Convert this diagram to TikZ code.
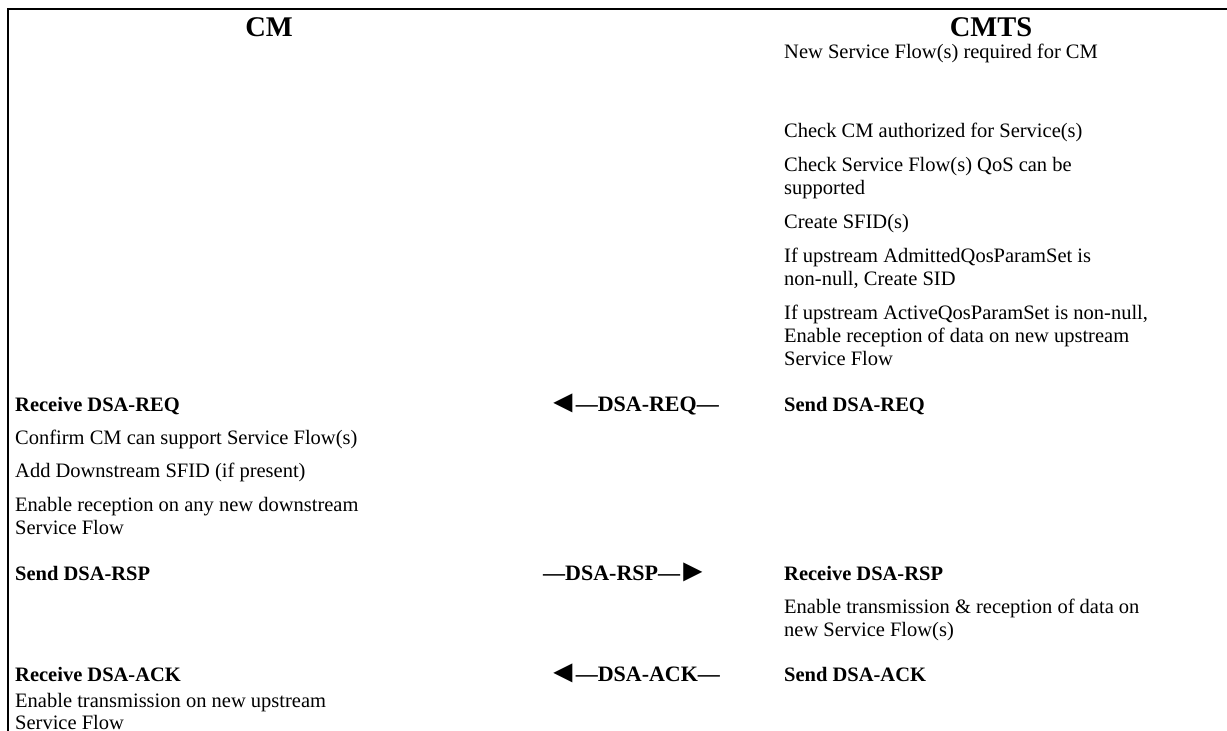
\documentclass[tikz,border=0pt]{standalone}
\usepackage{fontspec}
\usepackage{graphicx}
\setmainfont{Liberation Serif}
\newcommand{\tril}{\raisebox{-1pt}{\scalebox{1.45}{◄}}\kern-3pt}
\newcommand{\trir}{\kern-3pt\raisebox{-1pt}{\scalebox{1.45}{►}}}
\begin{document}
\begin{tikzpicture}[x=1pt,y=-1pt,
  txt/.style={anchor=base west, inner sep=0pt, font=\fontsize{20.5}{23}\selectfont},
  btxt/.style={anchor=base west, inner sep=0pt, font=\fontsize{20.5}{23}\selectfont\bfseries},
  msg/.style={anchor=base west, inner sep=0pt, font=\fontsize{22}{25}\selectfont\bfseries},
  hdr/.style={anchor=base, inner sep=0pt, text depth=0pt, font=\fontsize{28.5}{30}\selectfont\bfseries},
  frameline/.style={line width=2pt}]
\useasboundingbox (0,0) rectangle (1227,731);
\coordinate (fb) at (7.5,731);
\coordinate (fc) at (7.5,9);
\coordinate (fr) at (1227,9);
\draw[frameline] (fb) -- (fc) -- (fr);
% headers
\node[hdr] (hcm) at (269,36) {CM};
\node[hdr] (hcmts) at (991,36) {CMTS};
% CMTS column
\node[txt] (c1) at (784,58) {New Service Flow(s) required for CM};
\node[txt] (c2) at (784,137) {Check CM authorized for Service(s)};
\node[txt] (c3a) at (784,171) {Check Service Flow(s) QoS can be};
\node[txt] (c3b) at (784,194) {supported};
\node[txt] (c4) at (784,228) {Create SFID(s)};
\node[txt] (c5a) at (784,262) {If upstream AdmittedQosParamSet is};
\node[txt] (c5b) at (784,285) {non-null, Create SID};
\node[txt] (c6a) at (784,319) {If upstream ActiveQosParamSet is non-null,};
\node[txt] (c6b) at (784,342) {Enable reception of data on new upstream};
\node[txt] (c6c) at (784,365) {Service Flow};
% DSA-REQ row
\node[btxt] (cmreq) at (15,411) {Receive DSA-REQ};
\node[msg] (mreq) at (547,411) {\tril—DSA-REQ—};
\node[btxt] (tsreq) at (784,411) {Send DSA-REQ};
\node[txt] (m1) at (15,444) {Confirm CM can support Service Flow(s)};
\node[txt] (m2) at (15,477) {Add Downstream SFID (if present)};
\node[txt] (m3a) at (15,511) {Enable reception on any new downstream};
\node[txt] (m3b) at (15,534) {Service Flow};
% DSA-RSP row
\node[btxt] (cmrsp) at (15,580) {Send DSA-RSP};
\node[msg] (mrsp) at (543,580) {—DSA-RSP—\trir};
\node[btxt] (tsrsp) at (784,580) {Receive DSA-RSP};
\node[txt] (t1a) at (784,613) {Enable transmission \& reception of data on};
\node[txt] (t1b) at (784,636) {new Service Flow(s)};
% DSA-ACK row
\node[btxt] (cmack) at (15,681) {Receive DSA-ACK};
\node[msg] (mack) at (547,681) {\tril—DSA-ACK—};
\node[btxt] (tsack) at (784,681) {Send DSA-ACK};
\node[txt] (a1a) at (15,707) {Enable transmission on new upstream};
\node[txt, text depth=0pt] (a1b) at (15,729) {Service Flow};
\end{tikzpicture}
\end{document}
